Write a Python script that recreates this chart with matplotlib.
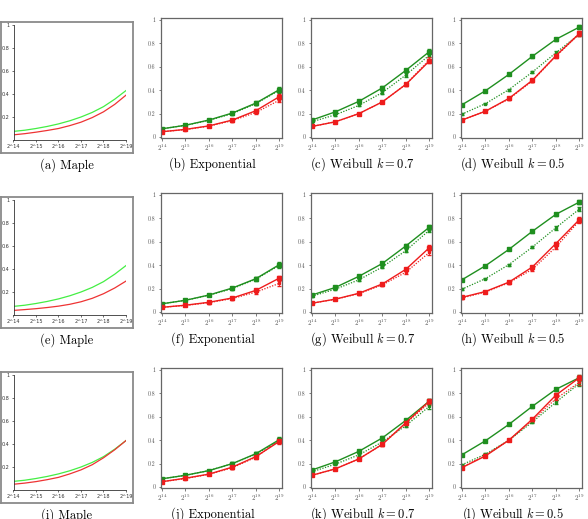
import matplotlib
matplotlib.use("Agg")
import matplotlib.pyplot as plt
import numpy as np

plt.rcParams['mathtext.fontset'] = 'cm'
plt.rcParams['font.family'] = ['cmr10', 'DejaVu Serif']
plt.rcParams['axes.formatter.use_mathtext'] = True

# ---- data ----
sizes = [14, 15, 16, 17, 18, 19]                 # log2 of n
maple_x = [14, 14.5, 15, 15.5, 16, 16.5, 17, 17.5, 18, 18.5, 19]

maple_green = [0.075, 0.085, 0.10, 0.118, 0.14, 0.167, 0.20, 0.24, 0.29, 0.355, 0.43]
maple_red_a = [0.045, 0.055, 0.068, 0.083, 0.10, 0.125, 0.155, 0.195, 0.245, 0.31, 0.39]
maple_red_e = [0.04, 0.047, 0.055, 0.065, 0.077, 0.093, 0.115, 0.145, 0.185, 0.235, 0.295]
maple_red_i = [0.05, 0.06, 0.073, 0.09, 0.11, 0.14, 0.175, 0.22, 0.28, 0.35, 0.43]

# row 1
b_gs = [0.07, 0.10, 0.145, 0.205, 0.29, 0.405]
b_gd = [0.07, 0.10, 0.142, 0.20, 0.285, 0.40]
b_rs = [0.045, 0.065, 0.095, 0.145, 0.225, 0.345]
b_rd = [0.045, 0.063, 0.093, 0.14, 0.21, 0.315]
c_gs = [0.145, 0.215, 0.305, 0.42, 0.57, 0.73]
c_gd = [0.13, 0.19, 0.27, 0.38, 0.53, 0.70]
c_rs = [0.09, 0.13, 0.20, 0.30, 0.45, 0.65]
c_rd = [0.09, 0.13, 0.20, 0.30, 0.45, 0.66]
d_gs = [0.275, 0.395, 0.535, 0.69, 0.835, 0.94]
d_gd = [0.195, 0.285, 0.405, 0.555, 0.72, 0.88]
d_rs = [0.145, 0.22, 0.33, 0.485, 0.695, 0.885]
d_rd = [0.145, 0.22, 0.325, 0.48, 0.69, 0.88]
# row 2
f_gs = [0.07, 0.10, 0.145, 0.205, 0.285, 0.405]
f_gd = [0.07, 0.10, 0.143, 0.20, 0.28, 0.40]
f_rs = [0.04, 0.058, 0.083, 0.12, 0.185, 0.29]
f_rd = [0.04, 0.056, 0.08, 0.115, 0.17, 0.245]
g_gs = [0.145, 0.21, 0.305, 0.415, 0.565, 0.725]
g_gd = [0.135, 0.195, 0.275, 0.385, 0.525, 0.70]
g_rs = [0.075, 0.11, 0.16, 0.24, 0.365, 0.55]
g_rd = [0.075, 0.108, 0.157, 0.232, 0.34, 0.51]
h_gs = [0.275, 0.395, 0.535, 0.69, 0.835, 0.94]
h_gd = [0.195, 0.285, 0.405, 0.555, 0.72, 0.88]
h_rs = [0.125, 0.175, 0.255, 0.385, 0.585, 0.79]
h_rd = [0.12, 0.17, 0.25, 0.365, 0.555, 0.78]
# row 3
j_gs = [0.07, 0.10, 0.14, 0.20, 0.285, 0.405]
j_gd = [0.07, 0.10, 0.14, 0.20, 0.28, 0.40]
j_rs = [0.045, 0.075, 0.11, 0.17, 0.26, 0.39]
j_rd = [0.045, 0.072, 0.108, 0.165, 0.255, 0.40]
k_gs = [0.145, 0.215, 0.305, 0.42, 0.57, 0.735]
k_gd = [0.13, 0.195, 0.275, 0.385, 0.525, 0.69]
k_rs = [0.10, 0.155, 0.24, 0.365, 0.55, 0.735]
k_rd = [0.10, 0.155, 0.24, 0.365, 0.545, 0.72]
l_gs = [0.275, 0.395, 0.535, 0.69, 0.835, 0.935]
l_gd = [0.19, 0.28, 0.40, 0.555, 0.725, 0.885]
l_rs = [0.165, 0.265, 0.40, 0.58, 0.785, 0.935]
l_rd = [0.17, 0.27, 0.40, 0.57, 0.755, 0.895]

err = [0.006, 0.007, 0.009, 0.012, 0.015, 0.02]

maple_panels = [("(a) Maple", maple_red_a), ("(e) Maple", maple_red_e),
                ("(i) Maple", maple_red_i)]
plot_panels = [
    [("(b) Exponential", b_gs, b_gd, b_rs, b_rd),
     ("(c) Weibull $k = 0.7$", c_gs, c_gd, c_rs, c_rd),
     ("(d) Weibull $k = 0.5$", d_gs, d_gd, d_rs, d_rd)],
    [("(f) Exponential", f_gs, f_gd, f_rs, f_rd),
     ("(g) Weibull $k = 0.7$", g_gs, g_gd, g_rs, g_rd),
     ("(h) Weibull $k = 0.5$", h_gs, h_gd, h_rs, h_rd)],
    [("(j) Exponential", j_gs, j_gd, j_rs, j_rd),
     ("(k) Weibull $k = 0.7$", k_gs, k_gd, k_rs, k_rd),
     ("(l) Weibull $k = 0.5$", l_gs, l_gd, l_rs, l_rd)],
]

W, H = 588, 519
GREEN = '#1f8f1f'
RED = '#ee1c1c'


def px_rect(l, t, r, b):
    return [l / W, 1 - b / H, (r - l) / W, (b - t) / H]


fig = plt.figure(figsize=(W / 100, H / 100), dpi=100)

for i in range(3):
    dy = 175 * i
    title, red = maple_panels[i]
    # gray frame of the screenshot
    box = fig.add_axes(px_rect(0.5, 22 + dy, 133, 153 + dy))
    box.set_xticks([])
    box.set_yticks([])
    for s in box.spines.values():
        s.set_color('#8a8a8a')
        s.set_linewidth(1.3)
    ax = fig.add_axes(px_rect(13.5, 25 + dy, 126, 140 + dy))
    ax.patch.set_alpha(0)
    ax.plot(maple_x, maple_green, color='#44ee44', lw=0.9)
    ax.plot(maple_x, red, color='#ee3333', lw=0.9)
    ax.set_xlim(14, 19)
    ax.set_ylim(0, 1)
    ax.spines['top'].set_visible(False)
    ax.spines['right'].set_visible(False)
    for s in ['left', 'bottom']:
        ax.spines[s].set_linewidth(0.6)
        ax.spines[s].set_color('#333333')
    ax.set_xticks(sizes)
    ax.set_xticklabels(['2^%d' % s for s in sizes], family='DejaVu Sans',
                       fontsize=3.5, color='#333333')
    ax.set_yticks([0.2, 0.4, 0.6, 0.8, 1])
    ax.set_yticklabels(['0.2', '0.4', '0.6', '0.8', '1'], family='DejaVu Sans',
                       fontsize=3.5, color='#333333')
    ax.tick_params(length=1.5, width=0.5, pad=1.5, color='#333333')
    fig.text(66.5 / W, 1 - (165 + dy) / H, title, ha='center', va='center',
             fontsize=9)

    for jj in range(3):
        name, gs, gd, rs, rd = plot_panels[i][jj]
        left = 160.7 + 150 * jj
        ax = fig.add_axes(px_rect(left, 17.7 + dy, left + 121.5, 137.7 + dy))
        ax.errorbar(sizes, gd, yerr=err, color=GREEN, ls=(0, (1, 1.2)), lw=0.9,
                    marker='s', ms=1.6, capsize=1.3, elinewidth=0.6)
        ax.errorbar(sizes, rd, yerr=err, color=RED, ls=(0, (1, 1.2)), lw=0.9,
                    marker='s', ms=1.6, capsize=1.3, elinewidth=0.6)
        ax.errorbar(sizes, gs, yerr=err, color=GREEN, ls='-', lw=1.0,
                    marker='s', ms=2.2, capsize=1.5, elinewidth=0.6)
        ax.errorbar(sizes, rs, yerr=err, color=RED, ls='-', lw=1.0,
                    marker='s', ms=2.2, capsize=1.5, elinewidth=0.6)
        ax.set_xlim(13.95, 19.12)
        ax.set_ylim(-0.006, 1.02)
        ax.set_xticks(sizes)
        ax.set_xticklabels(['$2^{%d}$' % s for s in sizes], fontsize=5,
                           color='#555555')
        ax.set_yticks([0, 0.2, 0.4, 0.6, 0.8, 1])
        ax.set_yticklabels(['0', '0.2', '0.4', '0.6', '0.8', '1'], fontsize=4.3,
                           color='#555555')
        ax.tick_params(length=1.8, width=0.6, pad=2, color='#666666')
        for s in ax.spines.values():
            s.set_color('#666666')
            s.set_linewidth(0.9)
        fig.text((left + 52) / W, 1 - (164 + dy) / H, name, ha='center',
                 va='center', fontsize=9)

fig.savefig('out.png', dpi=100)
